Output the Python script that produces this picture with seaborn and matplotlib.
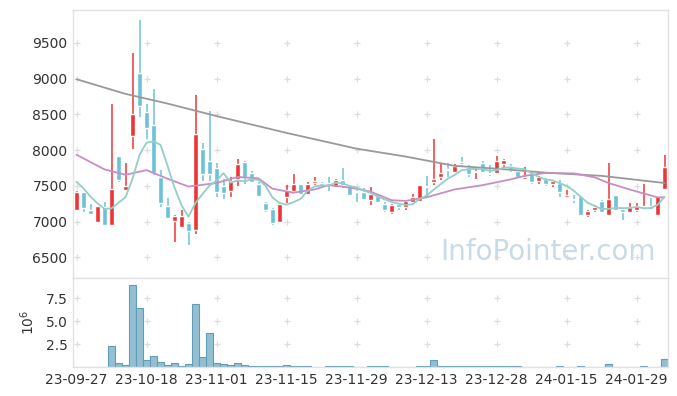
import warnings
warnings.filterwarnings("ignore")
import numpy as np
import pandas as pd
import matplotlib
matplotlib.use('Agg')
from matplotlib import pyplot as plt
import seaborn as sns

# trading days (KRX calendar, holidays removed)
holidays = ['2023-09-28', '2023-09-29', '2023-10-02', '2023-10-03', '2023-10-09',
            '2023-12-25', '2023-12-29', '2024-01-01']
dates = [d for d in pd.bdate_range('2023-09-27', '2024-02-02') if d.strftime('%Y-%m-%d') not in holidays]

opens = [7160, 7410, 7160, 7000, 7210, 6950, 7920, 7440, 8200, 9070,
         8530, 8350, 7630, 7220, 7010, 6920, 6980, 6890, 8010, 7850,
         7750, 7500, 7430, 7600, 7840, 7680, 7530, 7260, 7180, 6990,
         7350, 7430, 7530, 7390, 7545, 7540, 7540, 7490, 7580, 7500,
         7430, 7410, 7300, 7360, 7250, 7140, 7240, 7210, 7270, 7290,
         7500, 7560, 7630, 7740, 7700, 7830, 7760, 7700, 7820, 7680,
         7680, 7800, 7780, 7710, 7600, 7680, 7570, 7600, 7530, 7540,
         7340, 7320, 7360, 7090, 7160, 7290, 7090, 7370, 7180, 7140,
         7160, 7205, 7220, 7090, 7450]
highs = [7430, 7420, 7250, 7220, 7280, 8650, 7920, 7820, 9350, 9820,
         8650, 8850, 7720, 7330, 7090, 7160, 6990, 8770, 8100, 8550,
         7820, 7590, 7620, 7880, 7850, 7710, 7560, 7270, 7190, 7260,
         7510, 7670, 7530, 7560, 7630, 7560, 7630, 7590, 7750, 7510,
         7440, 7470, 7490, 7370, 7280, 7240, 7260, 7300, 7390, 7510,
         7640, 8160, 7810, 7820, 7810, 7910, 7790, 7770, 7850, 7790,
         7920, 7880, 7800, 7720, 7760, 7690, 7640, 7610, 7580, 7580,
         7440, 7370, 7360, 7160, 7230, 7300, 7820, 7370, 7190, 7260,
         7260, 7520, 7330, 7360, 7930]
lows = [7150, 7140, 7110, 7000, 6950, 6950, 7560, 7440, 8010, 8460,
        8160, 7650, 7210, 7040, 6720, 6920, 6680, 6830, 7570, 7570,
        7350, 7310, 7350, 7500, 7530, 7540, 7350, 7140, 6960, 6980,
        7260, 7420, 7380, 7380, 7510, 7480, 7430, 7470, 7470, 7360,
        7280, 7310, 7230, 7270, 7140, 7110, 7160, 7160, 7250, 7290,
        7350, 7510, 7580, 7630, 7680, 7770, 7630, 7600, 7680, 7640,
        7670, 7770, 7700, 7610, 7590, 7530, 7530, 7500, 7490, 7350,
        7330, 7260, 7090, 7070, 7140, 7120, 7090, 7160, 7030, 7120,
        7130, 7200, 7170, 7090, 7450]
closes = [7420, 7190, 7110, 7220, 6950, 7460, 7580, 7500, 8500, 8620,
          8310, 7680, 7260, 7050, 7080, 7080, 6870, 8230, 7670, 7670,
          7420, 7400, 7570, 7810, 7620, 7560, 7360, 7160, 6980, 7250,
          7440, 7530, 7390, 7530, 7570, 7510, 7520, 7580, 7510, 7370,
          7410, 7320, 7390, 7280, 7160, 7230, 7200, 7290, 7340, 7510,
          7480, 7600, 7680, 7720, 7780, 7810, 7670, 7710, 7700, 7660,
          7850, 7860, 7720, 7620, 7620, 7560, 7620, 7520, 7570, 7420,
          7370, 7300, 7090, 7150, 7200, 7140, 7310, 7160, 7140, 7200,
          7220, 7220, 7170, 7360, 7760]
# closes of the 4 sessions before the window (for the 5-day average)
pre_closes = [7660, 7690, 7685, 7340]

# volume, millions of shares
volume = [0.01, 0.01, 0.01, 0.01, 0.01, 2.3, 0.44, 0.26, 8.94, 6.37,
          0.8, 1.25, 0.59, 0.26, 0.44, 0.1, 0.33, 6.85, 1.1, 3.66,
          0.44, 0.37, 0.26, 0.44, 0.26, 0.1, 0.1, 0.1, 0.1, 0.1,
          0.2, 0.1, 0.1, 0.1, 0.02, 0.02, 0.08, 0.08, 0.08, 0.08,
          0.02, 0.02, 0.08, 0.08, 0.08, 0.02, 0.02, 0.02, 0.02, 0.08,
          0.08, 0.8, 0.08, 0.08, 0.08, 0.08, 0.08, 0.08, 0.08, 0.08,
          0.08, 0.08, 0.08, 0.08, 0.02, 0.02, 0.02, 0.02, 0.02, 0.08,
          0.02, 0.02, 0.08, 0.02, 0.02, 0.02, 0.33, 0.02, 0.02, 0.02,
          0.02, 0.08, 0.02, 0.02, 0.92]

# 20-day and 120-day averages
ma20_idx = [0, 4, 7, 10, 13, 16, 20, 23, 26, 28, 31, 34, 36, 38, 40, 42, 45, 47, 50,
            54, 58, 62, 64, 67, 71, 74, 76, 79, 81, 83, 84]
ma20_val = [7935, 7730, 7655, 7720, 7600, 7490, 7540, 7625, 7605, 7460, 7405, 7450, 7510,
            7490, 7460, 7420, 7300, 7290, 7340, 7450, 7510, 7590, 7640, 7680, 7675, 7620,
            7540, 7450, 7395, 7340, 7340]
ma120_idx = [0, 7, 13, 20, 30, 40, 47, 54, 60, 67, 75, 84]
ma120_val = [8990, 8785, 8650, 8475, 8240, 8020, 7910, 7780, 7740, 7685, 7640, 7540]

UP = '#ee3535'
DOWN = '#6cc2d8'

sns.set_theme(style='white')
plt.rcParams['font.family'] = ['DejaVu Sans']

n = len(closes)
idx = np.arange(n)
o = np.array(opens)
c = np.array(closes)
colors = [UP if c[i] >= o[i] else DOWN for i in idx]
ma5 = pd.Series(pre_closes + closes).rolling(5).mean().to_numpy()[4:]

fig = plt.figure(figsize=(6.77, 3.96), dpi=100)
W, H = 677.0, 396.0
ax1 = fig.add_axes([73 / W, (H - 278) / H, 595 / W, 268 / H])
ax2 = fig.add_axes([73 / W, (H - 367) / H, 595 / W, 89 / H], sharex=ax1)

# candles
ax1.vlines(idx, lows, highs, colors=colors, lw=1.1, zorder=3)
body = np.maximum(np.abs(c - o), 12)
ax1.bar(idx, body, bottom=np.minimum(o, c), width=0.7, color=colors, zorder=4)

# moving averages
sns.lineplot(x=ma120_idx, y=ma120_val, ax=ax1, color='#999999', lw=1.3, zorder=5)
sns.lineplot(x=ma20_idx, y=ma20_val, ax=ax1, color='#c98dc4', lw=1.3, zorder=5)
sns.lineplot(x=idx, y=ma5, ax=ax1, color='#92cfc6', lw=1.3, zorder=5)

ax1.set_ylim(6213, 9957)
ax1.set_yticks([6500, 7000, 7500, 8000, 8500, 9000, 9500])
ax1.set_xlim(-0.5, n - 0.5)

# volume
vol_df = pd.DataFrame({'i': idx, 'v': volume})
sns.barplot(data=vol_df, x='i', y='v', ax=ax2, width=1.0, color='#93bfd1',
            edgecolor='#5f9db8', linewidth=0.8, saturation=1, native_scale=True)
ax2.set_ylim(0, 9.68)
ax2.set_yticks([2.5, 5.0, 7.5])
ax2.set_xlim(-0.5, n - 0.5)
ax2.set_xlabel('')
ax2.set_ylabel(r'$10^6$', fontsize=10, color='#333333', labelpad=6)

xt = list(range(0, n, 10))
ax2.set_xticks(xt)
ax2.set_xticklabels([dates[i].strftime('%y-%m-%d') for i in xt])
plt.setp(ax1.get_xticklabels(), visible=False)

# grid as small crosses
for ax in (ax1, ax2):
    gx, gy = np.meshgrid(xt, ax.get_yticks())
    ax.plot(gx.ravel(), gy.ravel(), '+', color='#dddddd', ms=5, mew=0.9, zorder=1)
    for s in ax.spines.values():
        s.set_color('#e2e2e2')
        s.set_linewidth(1.0)
    ax.tick_params(length=0, labelsize=10, colors='#333333', pad=4)
    ax.set_ylabel(ax.get_ylabel())
ax1.set_xlabel('')
ax1.set_ylabel('')

ax1.text(0.98, 0.045, 'InfoPointer.com', transform=ax1.transAxes, ha='right', va='bottom',
         fontsize=20, color='#c9dbe4', zorder=6)

fig.savefig('out.png', dpi=100)
